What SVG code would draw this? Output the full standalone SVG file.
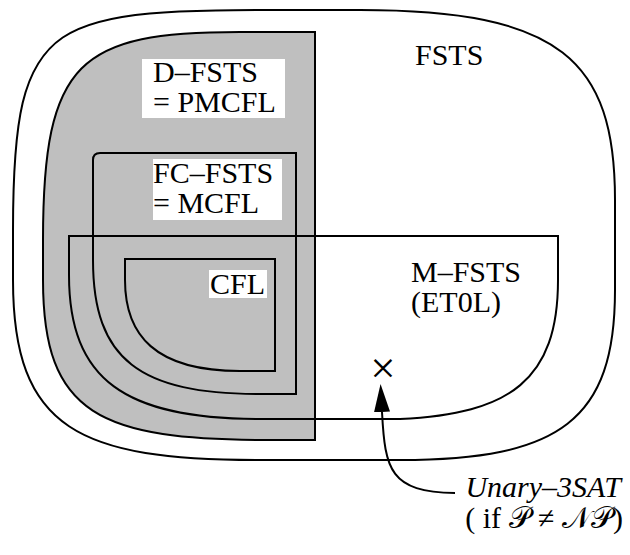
<svg xmlns="http://www.w3.org/2000/svg" width="630" height="555" viewBox="0 0 630 555">
<style>
.ln{fill:none;stroke:#000;stroke-width:2;stroke-linejoin:miter}
.t{font-family:"Liberation Serif","Times New Roman",serif;font-size:30px;fill:#000}
.it{font-style:italic}
.box{fill:#fff;stroke:none}
</style>
<defs>
<marker id="ah" markerUnits="userSpaceOnUse" markerWidth="30" markerHeight="16" refX="0" refY="8" orient="auto">
<path d="M0,0 L28,8 L0,16 Z" fill="#000"/>
</marker>
</defs>
<rect width="630" height="555" fill="#fff"/>
<g id="fsts">
<path class="ln" fill="#fff" d="M13 230 C13 10 50 10 300 10 L360 10 C560 10 615 60 615 200 L615 290 C615 420 560 460 400 460 L260 460 C80 460 13 430 13 280 Z"/>
<text class="t" x="415" y="65">FSTS</text>
</g>
<g id="dfsts">
<path d="M43 240 C43 60 80 32 240 32 L315 32 L315 440 L270 440 C100 440 43 415 43 280 Z" fill="#bfbfbf" stroke="#000" stroke-width="2"/>
<rect class="box" x="142" y="59" width="143" height="59"/>
<text class="t" x="153" y="82">D–FSTS</text>
<text class="t" x="153" y="112">= PMCFL</text>
</g>
<g id="fcfsts">
<path class="ln" d="M93 160 Q93 153 100 153 L296 153 L296 394 L260 394 C140 394 93 360 93 260 Z"/>
<rect class="box" x="153" y="159" width="129" height="61"/>
<text class="t" x="153" y="183">FC–FSTS</text>
<text class="t" x="153" y="213">= MCFL</text>
</g>
<g id="mfsts">
<path class="ln" d="M69 236 L558 236 L558 280 C558 380 510 414 400 419 L260 419 C125 419 69 380 69 275 Z"/>
<text class="t" x="411" y="282">M–FSTS</text>
<text class="t" x="411" y="312">(ET0L)</text>
</g>
<g id="cfl">
<path class="ln" d="M125 259 L275 259 L275 371 L240 371 C155 371 125 335 125 280 Z"/>
<rect class="box" x="209" y="270" width="58" height="28"/>
<text class="t" x="210" y="294">CFL</text>
</g>
<g id="point">
<text class="t" x="383" y="383" text-anchor="middle" style="font-size:45px">×</text>
</g>
<g id="connectors">
<path class="ln" d="M455 493 C390 492 385 470 382 412" marker-end="url(#ah)"/>
</g>
<g id="label">
<text class="t it" x="621" y="497" text-anchor="end">Unary–3SAT</text>
<text class="t" x="623" y="528" text-anchor="end">( if 𝒫 ≠ 𝒩𝒫)</text>
</g>
</svg>
